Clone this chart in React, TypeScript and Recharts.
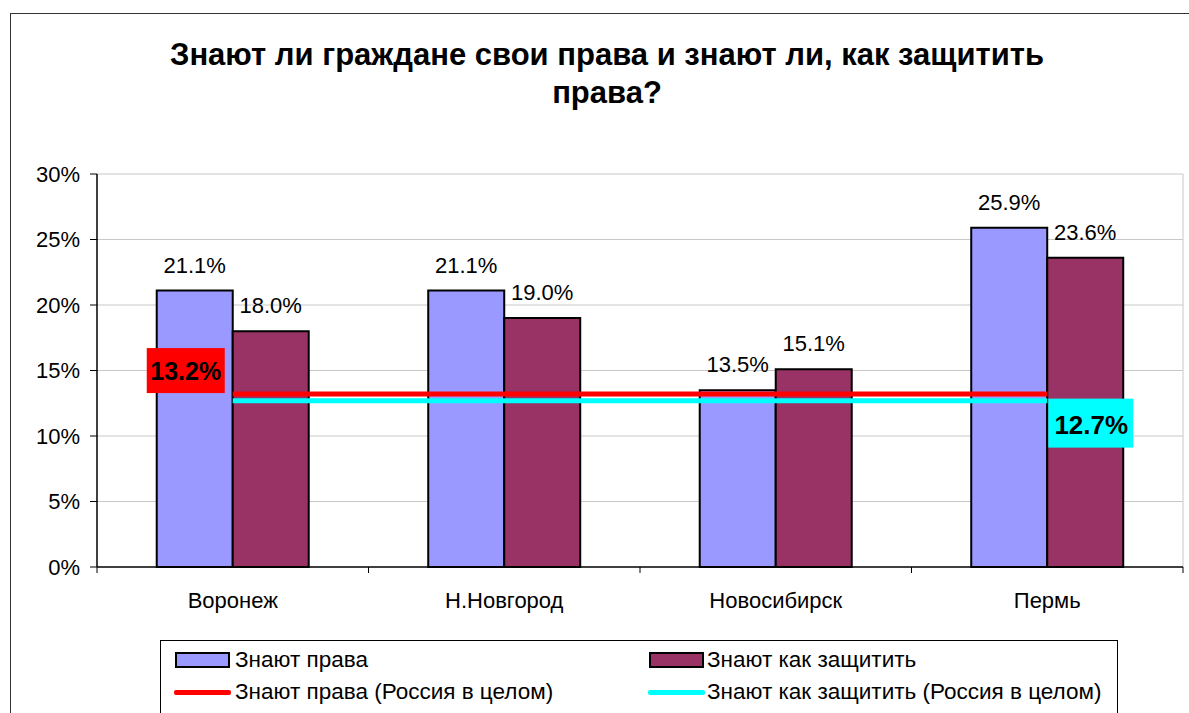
import React from 'react'
import {Bar, CartesianGrid, ComposedChart, LabelList, Line, XAxis, YAxis} from 'recharts'

const categories = ['Воронеж', 'Н.Новгород', 'Новосибирск', 'Пермь']
const knowRights = [21.1, 21.1, 13.5, 25.9]
const knowProtect = [18.0, 19.0, 15.1, 23.6]
const russiaRights = [13.2, 13.2, 13.2, 13.2]
const russiaProtect = [12.7, 12.7, 12.7, 12.7]
const yTicks = [0, 5, 10, 15, 20, 25, 30]

const font = '"Liberation Sans", Arial, sans-serif'

const data = categories.map((name, i) => ({
  name,
  rights: knowRights[i],
  protect: knowProtect[i],
  ruRights: russiaRights[i],
  ruProtect: russiaProtect[i]
}))

const W = 1189
const H = 713
const xAxisHeight = 30
const margin = {top: 174, right: 6, bottom: 146 - xAxisHeight, left: 0}
const yAxisWidth = 97
const plotRight = W - margin.right
const plotBottom = 567
const band = (plotRight - yAxisWidth) / categories.length

const pct = (v: number) => `${v.toFixed(1)}%`

function CategoryTick(props: any) {
  const {x, payload, index} = props
  return (
    <g>
      <line x1={x - band / 2} x2={x - band / 2} y1={plotBottom} y2={plotBottom + 6} stroke="#000" />
      {index === categories.length - 1 && (
        <line x1={x + band / 2} x2={x + band / 2} y1={plotBottom} y2={plotBottom + 6} stroke="#000" />
      )}
      <text x={x} y={plotBottom + 41} textAnchor="middle" fontSize={22} fontFamily={font} fill="#000">
        {payload.value}
      </text>
    </g>
  )
}

function RedLabel(props: any) {
  const {x, y, index} = props
  if (index !== 0) return null
  return (
    <g>
      <rect x={x - 86} y={y - 46} width={78} height={45} fill="#ff0000" />
      <text x={x - 47} y={y - 14} textAnchor="middle" fontSize={25} fontWeight="bold" fontFamily={font} fill="#000">
        {pct(russiaRights[0])}
      </text>
    </g>
  )
}

function CyanLabel(props: any) {
  const {x, y, index} = props
  if (index !== categories.length - 1) return null
  return (
    <g>
      <rect x={x + 1} y={y - 2} width={85} height={49} fill="#00ffff" />
      <text x={x + 44} y={y + 33} textAnchor="middle" fontSize={26} fontWeight="bold" fontFamily={font} fill="#000">
        {pct(russiaProtect[russiaProtect.length - 1])}
      </text>
    </g>
  )
}

function Legend() {
  const text: React.CSSProperties = {position: 'absolute', fontSize: 22.5, fontFamily: font, color: '#000', lineHeight: '24px'}
  const box = (left: number, color: string): React.CSSProperties => ({
    position: 'absolute', left, top: 11, width: 51, height: 12, background: color, border: '2px solid #000'
  })
  const line = (left: number, color: string): React.CSSProperties => ({
    position: 'absolute', left, top: 49, width: 57, height: 5, background: color, borderRadius: 2
  })
  return (
    <div style={{position: 'absolute', left: 160, top: 640, width: 958, height: 90, border: '1px solid #000', boxSizing: 'border-box'}}>
      <div style={box(14, '#9999ff')} />
      <div style={{...text, left: 74, top: 7}}>Знают права</div>
      <div style={box(488, '#993366')} />
      <div style={{...text, left: 546, top: 7}}>Знают как защитить</div>
      <div style={line(13, '#ff0000')} />
      <div style={{...text, left: 74, top: 39}}>Знают права (Россия в целом)</div>
      <div style={line(487, '#00ffff')} />
      <div style={{...text, left: 546, top: 39}}>Знают как защитить (Россия в целом)</div>
    </div>
  )
}

export default function App() {
  return (
    <div style={{position: 'absolute', left: 0, top: 0, width: W, height: H, overflow: 'hidden', background: '#fff', fontFamily: font}}>
      <div style={{position: 'absolute', left: 10, top: 13, width: 1300, height: 900, border: '1.5px solid #333'}} />
      <div
        style={{
          position: 'absolute', left: 10, top: 36, width: 1194, textAlign: 'center',
          fontSize: 31, fontWeight: 'bold', lineHeight: '38px', color: '#000'
        }}
      >
        Знают ли граждане свои права и знают ли, как защитить
        <br />
        права?
      </div>
      <div style={{position: 'absolute', left: 0, top: 0}}>
        <ComposedChart width={W} height={H} data={data} margin={margin} barCategoryGap="22%" barGap={0}>
          <CartesianGrid
            stroke="#c8c8c8"
            horizontalValues={yTicks.slice(1)}
            verticalCoordinatesGenerator={() => [plotRight]}
          />
          <XAxis
            dataKey="name"
            height={xAxisHeight}
            axisLine={{stroke: '#000', strokeWidth: 1.5}}
            tickLine={false}
            tick={<CategoryTick />}
            interval={0}
          />
          <YAxis
            width={yAxisWidth}
            domain={[0, 30]}
            ticks={yTicks}
            tickFormatter={(v) => `${v}%`}
            axisLine={{stroke: '#000', strokeWidth: 1.5}}
            tickLine={{stroke: '#000'}}
            tickSize={7}
            tickMargin={10}
            tick={{fontSize: 22, fill: '#000', fontFamily: font}}
          />
          <Bar dataKey="rights" fill="#9999ff" stroke="#000" strokeWidth={2} isAnimationActive={false}>
            <LabelList dataKey="rights" position="top" offset={18} formatter={(v: any) => pct(Number(v))} style={{fontSize: 22, fill: '#000', fontFamily: font}} />
          </Bar>
          <Bar dataKey="protect" fill="#993366" stroke="#000" strokeWidth={2} isAnimationActive={false}>
            <LabelList dataKey="protect" position="top" offset={18} formatter={(v: any) => pct(Number(v))} style={{fontSize: 22, fill: '#000', fontFamily: font}} />
          </Bar>
          <Line dataKey="ruRights" type="linear" stroke="#ff0000" strokeWidth={5} dot={false} isAnimationActive={false}>
            <LabelList dataKey="ruRights" content={<RedLabel />} />
          </Line>
          <Line dataKey="ruProtect" type="linear" stroke="#00ffff" strokeWidth={5} dot={false} isAnimationActive={false}>
            <LabelList dataKey="ruProtect" content={<CyanLabel />} />
          </Line>
        </ComposedChart>
      </div>
      <Legend />
    </div>
  )
}
